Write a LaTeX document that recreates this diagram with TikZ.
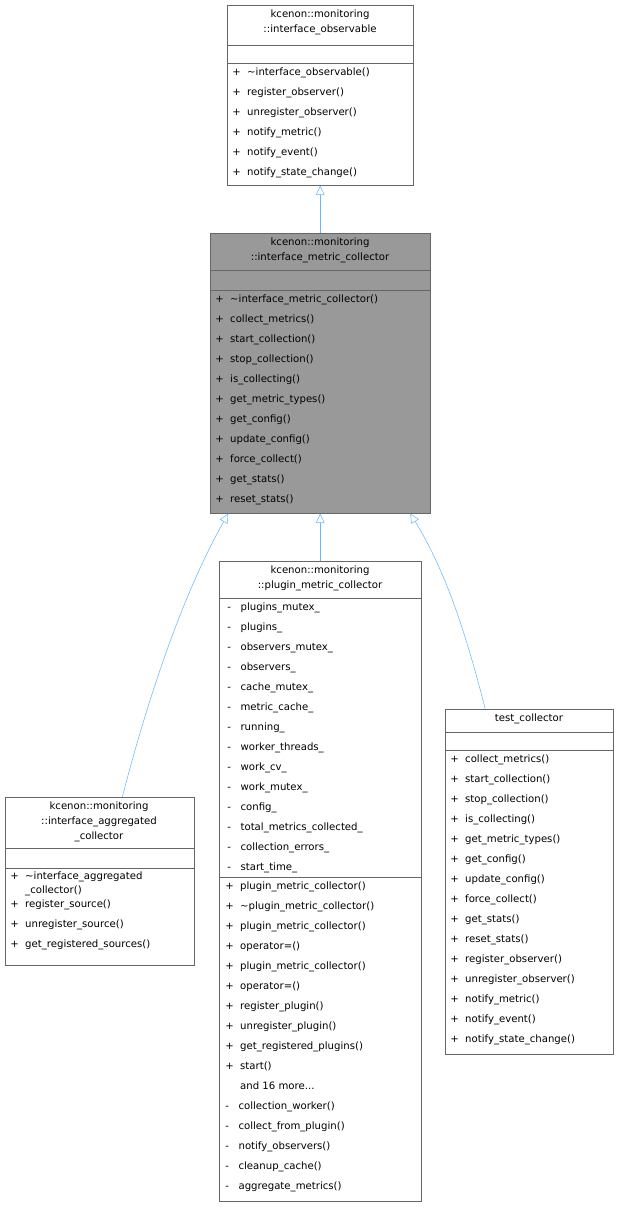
\documentclass[tikz,border=0pt]{standalone}
\usepackage{fontspec}
\setmainfont{DejaVu Sans}
\usetikzlibrary{arrows.meta}
\definecolor{edgeblue}{HTML}{63B8FF}
\definecolor{boxgray}{HTML}{999999}
\definecolor{linegray}{HTML}{666666}

\begin{document}
\begin{tikzpicture}[x=0.75pt, y=-0.75pt,
        box/.style={draw=linegray, rectangle, anchor=north west, inner sep=0pt},
        members/.style={anchor=north west, align=left, inner sep=0pt, font=\fontsize{7.6}{15}\selectfont},
        title/.style={anchor=north, align=center, inner sep=0pt, font=\fontsize{7.6}{11.2}\selectfont},
        inh/.style={draw=edgeblue, -{Triangle[open, length=7pt, width=6.5pt]}}]
        \useasboundingbox (0,0) rectangle (619,1207);

        % class boxes
        \node[box, minimum width=139.5pt, minimum height=135pt] (obs) at (227,5) {};
        \node[box, fill=boxgray, minimum width=165pt, minimum height=210pt] (coll) at (210,233) {};
        \node[box, minimum width=141.75pt, minimum height=126pt] (agg) at (5,797) {};
        \node[box, minimum width=151.5pt, minimum height=480pt] (plug) at (219,561) {};
        \node[box, minimum width=126pt, minimum height=258.75pt] (test) at (445,709) {};

        % compartments
        \draw[linegray] (227,45) -- (413,45) (227,63) -- (413,63);
        \draw[linegray] (210,270) -- (430,270) (210,290) -- (430,290);
        \draw[linegray] (5,848) -- (194,848) (5,868) -- (194,868);
        \draw[linegray] (219,598) -- (421,598) (219,877) -- (421,877);
        \draw[linegray] (445,732) -- (613,732) (445,750) -- (613,750);

        % titles
        \node[title] (obsT) at (320,10) {kcenon::monitoring\\::interface\_observable};
        \node[title] (collT) at (320,238) {kcenon::monitoring\\::interface\_metric\_collector};
        \node[title] (aggT) at (99,802) {kcenon::monitoring\\::interface\_aggregated\\\_collector};
        \node[title] (plugT) at (320,566) {kcenon::monitoring\\::plugin\_metric\_collector};
        \node[title] (testT) at (529,714) {test\_collector};

        % members
        \node[members] (obsM) at (232,68) {+ \ \textasciitilde interface\_observable()\\+ \ register\_observer()\\+ \ unregister\_observer()\\+ \ notify\_metric()\\+ \ notify\_event()\\+ \ notify\_state\_change()};
        \node[members] (collM) at (215,295) {+ \ \textasciitilde interface\_metric\_collector()\\+ \ collect\_metrics()\\+ \ start\_collection()\\+ \ stop\_collection()\\+ \ is\_collecting()\\+ \ get\_metric\_types()\\+ \ get\_config()\\+ \ update\_config()\\+ \ force\_collect()\\+ \ get\_stats()\\+ \ reset\_stats()};
        \node[members, font=\fontsize{7.6}{10}\selectfont] (aggM1) at (10,872) {+ \ \textasciitilde interface\_aggregated\\\phantom{+ \ }\_collector()};
        \node[members] (aggM2) at (10,900) {+ \ register\_source()\\+ \ unregister\_source()\\+ \ get\_registered\_sources()};
        \node[members] (plugA) at (227,603) {- \ \ plugins\_mutex\_\\- \ \ plugins\_\\- \ \ observers\_mutex\_\\- \ \ observers\_\\- \ \ cache\_mutex\_\\- \ \ metric\_cache\_\\- \ \ running\_\\- \ \ worker\_threads\_\\- \ \ work\_cv\_\\- \ \ work\_mutex\_\\- \ \ config\_\\- \ \ total\_metrics\_collected\_\\- \ \ collection\_errors\_\\- \ \ start\_time\_};
        \node[members] (plugM) at (225,882) {+ \ plugin\_metric\_collector()\\+ \ \textasciitilde plugin\_metric\_collector()\\+ \ plugin\_metric\_collector()\\+ \ operator=()\\+ \ plugin\_metric\_collector()\\+ \ operator=()\\+ \ register\_plugin()\\+ \ unregister\_plugin()\\+ \ get\_registered\_plugins()\\+ \ start()\\\phantom{+ \ }and 16 more...\\- \ \ collection\_worker()\\- \ \ collect\_from\_plugin()\\- \ \ notify\_observers()\\- \ \ cleanup\_cache()\\- \ \ aggregate\_metrics()};
        \node[members] (testM) at (450,755) {+ \ collect\_metrics()\\+ \ start\_collection()\\+ \ stop\_collection()\\+ \ is\_collecting()\\+ \ get\_metric\_types()\\+ \ get\_config()\\+ \ update\_config()\\+ \ force\_collect()\\+ \ get\_stats()\\+ \ reset\_stats()\\+ \ register\_observer()\\+ \ unregister\_observer()\\+ \ notify\_metric()\\+ \ notify\_event()\\+ \ notify\_state\_change()};

        % inheritance
        \draw[inh] (coll.north) -- (obs.south);
        \draw[inh] (plug.north) -- (coll.south);
        \draw[inh] ([xshift=16.9pt]agg.north) .. controls (150,690) and (185,590) .. ([xshift=-69pt]coll.south);
        \draw[inh] ([xshift=-33pt]test.north) .. controls (465,630) and (445,570) .. ([xshift=67.5pt]coll.south);
\end{tikzpicture}
\end{document}
